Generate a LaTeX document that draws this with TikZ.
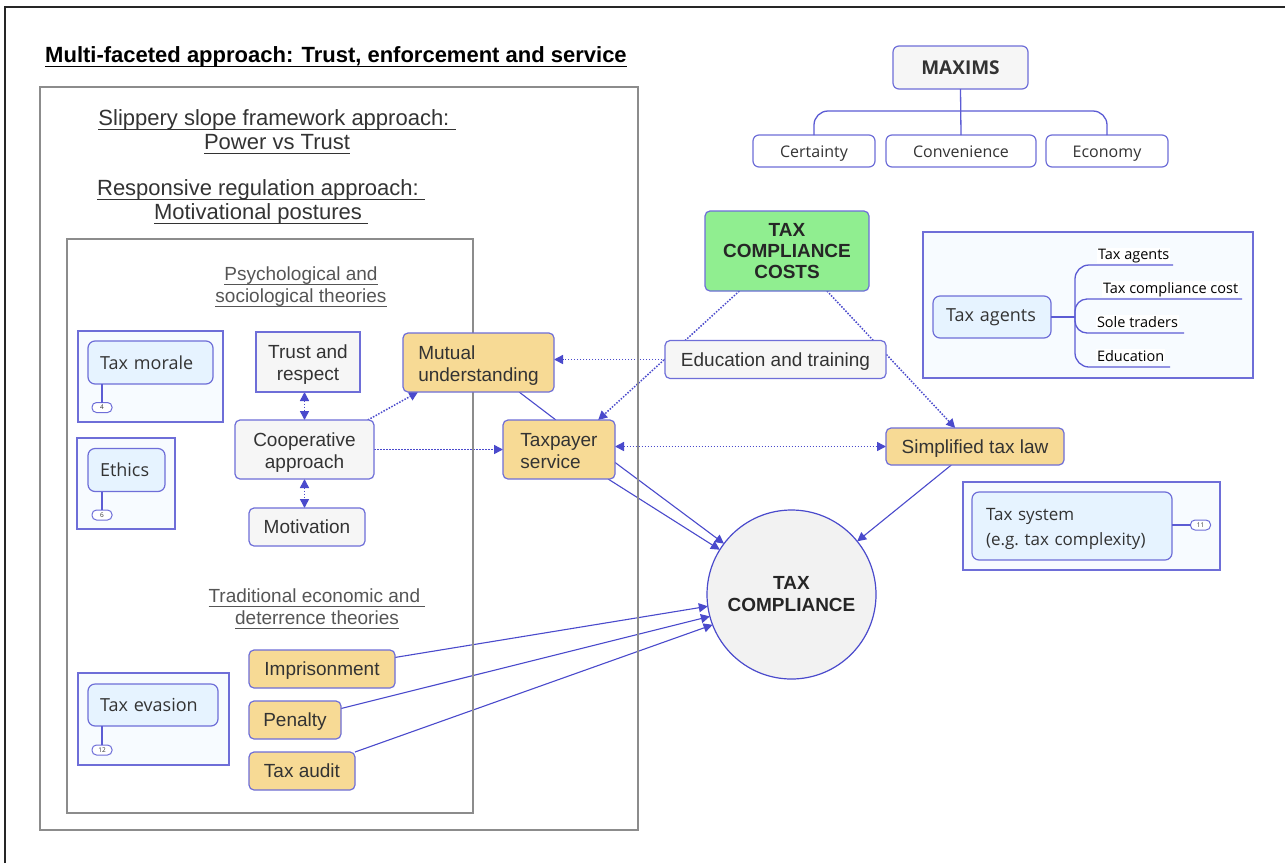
\documentclass[tikz,border=0pt]{standalone}
\usepackage{fontspec}
\setmainfont{Liberation Sans}
\newfontfamily\segfont{Open Sans}
\usetikzlibrary{arrows.meta,calc}
\pgfdeclarelayer{paper}
\pgfdeclarelayer{links}
\pgfsetlayers{paper,links,main}

\definecolor{edge}{HTML}{6E6ED8}
\definecolor{linkblue}{HTML}{4A4ACC}
\definecolor{mmline}{HTML}{5C5CD4}
\definecolor{orangefill}{HTML}{F7DA95}
\definecolor{greyfill}{HTML}{F6F6F6}
\definecolor{greenfill}{HTML}{90EE90}
\definecolor{circlefill}{HTML}{F2F2F2}
\definecolor{groupfill}{HTML}{F7FBFF}
\definecolor{topicfill}{HTML}{E6F3FF}
\definecolor{framegray}{HTML}{8C8C8C}
\definecolor{ink}{HTML}{333333}
\definecolor{softink}{HTML}{555555}

% text with a rule drawn underneath it
\newcommand\ulined[1]{\setbox0\hbox{#1}\rlap{\rule[-5pt]{\wd0}{1.2pt}}\box0}

\tikzset{
  every node/.style={inner sep=0pt, outer sep=0pt},
  box/.style={draw=edge, line width=1.2pt, rounded corners=5pt, text=ink,
    font=\fontsize{19}{22}\selectfont, align=center},
  oneline/.style={text height=15pt, text depth=2pt},
  twoline/.style={text height=37pt, text depth=0pt},
  plain/.style={box, fill=greyfill},
  warm/.style={box, fill=orangefill},
  topic/.style={draw=edge, line width=1.2pt, rounded corners=7pt, fill=topicfill,
    text=ink, inner xsep=12pt, align=left, font=\segfont\fontsize{18}{25}\selectfont},
  group/.style={draw=edge, line width=1.2pt, fill=groupfill},
  pill/.style={draw=edge, line width=1pt, fill=white, rounded corners=4.5pt,
    minimum width=20pt, minimum height=10pt, font=\segfont\fontsize{6.5}{7}\selectfont, text=ink},
  maxim/.style={draw=edge, line width=1.2pt, rounded corners=6pt, fill=white, text=ink,
    text height=14pt, text depth=2pt,
    font=\segfont\fontsize{16}{18}\selectfont, minimum height=32pt},
  leaf/.style={fill=white, text=black, font=\segfont\fontsize{14.5}{16}\selectfont, inner sep=1pt},
  mmlink/.style={draw=mmline, line width=1.3pt},
  frameline/.style={draw=framegray, line width=1.5pt},
  solidlink/.style={draw=linkblue, line width=1.1pt},
  dotlink/.style={draw=linkblue, line width=1.5pt, dash pattern=on 1.5pt off 1.5pt},
  headarrow/.style={-{Triangle[length=9pt,width=9pt]}},
  botharrow/.style={{Triangle[length=9pt,width=9pt]}-{Triangle[length=9pt,width=9pt]}},
  heading/.style={text=ink, font=\fontsize{22}{24}\selectfont, align=center},
  theory/.style={text=softink, font=\fontsize{19}{22}\selectfont, align=center},
}

\begin{document}
\begin{tikzpicture}[x=1pt,y=-1pt]
\begin{pgfonlayer}{paper}
  \fill[white] (0,0) rectangle (1285,863);
\end{pgfonlayer}
\useasboundingbox (0,0) rectangle (1285,863);

% page frame
\draw[line width=2pt, black!85] (5,863) -- (5,7) -- (1285,7);

% title and enclosing frames
\node[font=\bfseries\fontsize{22}{24}\selectfont, anchor=base] (title) at (336,62)
  {\ulined{Multi-faceted approach: Trust, enforcement and service}};
\draw[frameline] (40,87) rectangle (638,830);
\draw[frameline] (67,239) rectangle (473,813);

\node[heading] (slip) at (277,132)
  {\ulined{Slippery slope framework approach:\ }\\\ulined{Power vs Trust}};
\node[heading] (resp) at (261,202)
  {\ulined{Responsive regulation approach:\ }\\\ulined{Motivational postures\ }};
\node[theory] (psych) at (301,287)
  {\ulined{Psychological and}\\\ulined{sociological theories}};
\node[theory] (trad) at (317,609)
  {\ulined{Traditional economic and\ }\\\ulined{deterrence theories}};

% mind-map topics on the left
\node[group, minimum width=145pt, minimum height=91pt] (gmorale) at (150.5,376.5) {};
\node[topic, text width=101pt, minimum height=43pt] (morale) at (150.5,362.5) {Tax morale};
\node[pill] (n4) at (102,407.5) {4};
\draw[mmlink] (n4.north) -- (n4.north |- morale.south);

\node[group, minimum width=98pt, minimum height=91pt] (gethics) at (126,483.5) {};
\node[topic, text width=53pt, minimum height=43pt] (ethics) at (126.5,470) {Ethics};
\node[pill] (n6) at (102,515) {6};
\draw[mmlink] (n6.north) -- (n6.north |- ethics.south);

\node[group, minimum width=151pt, minimum height=92pt] (gevasion) at (153.5,719) {};
\node[topic, text width=106pt, minimum height=42pt] (evasion) at (153,705) {Tax evasion};
\node[pill] (n12) at (102,750) {12};
\draw[mmlink] (n12.north) -- (n12.north |- evasion.south);

% cooperative cluster
\node[box, twoline, fill=greyfill, sharp corners, minimum width=104pt, minimum height=60pt] (trust) at (308,362) {Trust and\\respect};
\node[plain, twoline, minimum width=139pt, minimum height=59pt] (coop) at (304.5,449.5) {Cooperative\\approach};
\node[plain, oneline, minimum width=116pt, minimum height=38pt] (motiv) at (307,527) {Motivation};
\node[warm, twoline, align=left, minimum width=151pt, minimum height=59pt] (mutual) at (478.5,362.5) {Mutual\\understanding};
\node[warm, twoline, align=left, minimum width=112pt, minimum height=59pt] (taxpayer) at (559,449.5) {Taxpayer\\service};

% deterrence measures
\node[warm, oneline, minimum width=146pt, minimum height=38pt] (impr) at (322,669) {Imprisonment};
\node[warm, oneline, minimum width=92pt, minimum height=38pt] (pen) at (295,720) {Penalty};
\node[warm, oneline, minimum width=106pt, minimum height=38pt] (audit) at (302,771) {Tax audit};

% centre
\node[box, fill=greenfill, text=black!85, font=\bfseries\fontsize{19}{21}\selectfont,
  minimum width=164pt, minimum height=80pt] (tcc) at (787,251) {TAX\\COMPLIANCE\\COSTS};
\node[plain, oneline, minimum width=221pt, minimum height=38pt] (edu) at (775.5,359.5) {Education and training};
\node[warm, oneline, minimum width=178pt, minimum height=37pt] (simpl) at (975,446.5) {Simplified tax law};
\node[circle, draw=linkblue, line width=1.2pt, fill=circlefill, minimum size=169pt,
  text=black!85, font=\bfseries\fontsize{19}{22}\selectfont, align=center] (tc) at (791.5,594.5) {TAX\\COMPLIANCE};

% maxims
\node[maxim, fill=greyfill, font=\segfont\bfseries\fontsize{19}{22}\selectfont, text height=14pt, text depth=0pt,
  minimum width=135pt, minimum height=43pt] (maxims) at (960.5,67.5) {MAXIMS};
\node[maxim, minimum width=122pt] (cert) at (814,151) {Certainty};
\node[maxim, minimum width=150pt] (conv) at (961,151) {Convenience};
\node[maxim, minimum width=122pt] (eco) at (1107,151) {Economy};
\coordinate (bar) at (960,111);
\draw[mmlink, rounded corners=14pt] (cert.north) |- (bar) -| (eco.north);
\draw[mmlink] (maxims.south) -- (conv.north);

% tax agents
\node[group, minimum width=330pt, minimum height=146pt] (gagents) at (1088,305) {};
\node[topic, text width=92pt, inner xsep=13pt, minimum height=42pt] (agents) at (992,317) {Tax agents};
\node[leaf, anchor=base west] (l1) at (1097,259) {Tax agents};
\node[leaf, anchor=base west] (l2) at (1102,293) {Tax compliance cost};
\node[leaf, anchor=base west] (l3) at (1096,327) {Sole traders};
\node[leaf, anchor=base west] (l4) at (1096,361) {Education};
\coordinate (hub) at (1075,317);
\coordinate (u1) at (1173,265);
\coordinate (u2) at (1242,299);
\coordinate (u3) at (1184,333);
\coordinate (u4) at (1170,367);
\draw[mmlink] (agents.east) -- (hub);
\draw[mmlink, rounded corners=14pt] (hub) |- (u1);
\draw[mmlink, rounded corners=12pt] (hub) |- (u2);
\draw[mmlink, rounded corners=12pt] (hub) |- (u3);
\draw[mmlink, rounded corners=14pt] (hub) |- (u4);

% tax system
\node[group, minimum width=257pt, minimum height=88pt] (gsystem) at (1091.5,526) {};
\node[topic, text width=172pt, inner xsep=14pt, minimum height=68pt, text height=14pt, text depth=26pt,
  font=\segfont\fontsize{17}{25}\selectfont] (system) at (1072,526)
  {Tax system\\(e.g.\ tax complexity)};
\node[pill] (n11) at (1200.5,525) {11};
\draw[mmlink] (system.east |- n11.west) -- (n11.west);

% connectors
\begin{pgfonlayer}{links}
  \draw[dotlink, botharrow] (coop.north |- trust.south) -- (coop.north);
  \draw[dotlink, botharrow] (coop.south) -- (coop.south |- motiv.north);
  \draw[dotlink, headarrow] (coop.25) -- (mutual.206);
  \draw[dotlink, headarrow] (coop.east) -- (coop.east -| taxpayer.west);
  \draw[dotlink, headarrow] (edu.west) -- (edu.west -| mutual.east);
  \draw[dotlink, headarrow] (tcc.220) -- (taxpayer.37);
  \draw[dotlink, headarrow] (tcc.-45) -- (simpl.137);
  \draw[dotlink, botharrow] (taxpayer.east |- simpl.west) -- (simpl.west);
  \draw[solidlink] (mutual.-36) -- (taxpayer.96);
  \draw[solidlink, headarrow] (taxpayer.-13) -- (tc.143);
  \draw[solidlink, headarrow] (taxpayer.-31) -- (tc.148);
  \draw[solidlink, headarrow] (simpl.218) -- (tc.39);
  \draw[solidlink, headarrow] (impr.9) -- (tc.188);
  \draw[solidlink, headarrow] (pen.14) -- (tc.195);
  \draw[solidlink, headarrow] (audit.north east) -- (tc.201);
\end{pgfonlayer}
\end{tikzpicture}
\end{document}
